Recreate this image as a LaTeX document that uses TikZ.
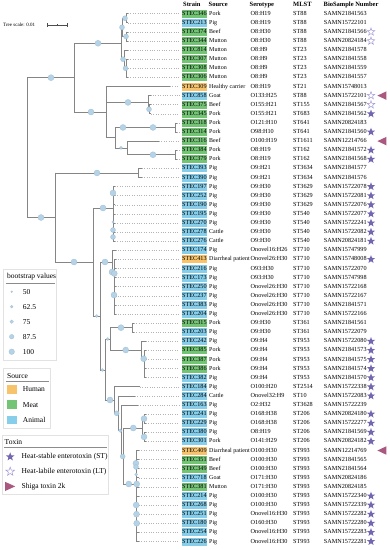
\documentclass[tikz,border=0pt]{standalone}
\usepackage{fontspec}
\setmainfont{Liberation Serif}
\usetikzlibrary{shapes.geometric}
\definecolor{cG}{HTML}{74C476}
\definecolor{cB}{HTML}{86CEEA}
\definecolor{cO}{HTML}{F7C46C}
\definecolor{brc}{HTML}{858585}
\definecolor{bsc}{HTML}{B5D2E6}
\definecolor{bsd}{HTML}{9DBDD4}
\definecolor{stc}{HTML}{7466B0}
\definecolor{hst}{HTML}{A39BD6}
\definecolor{trc}{HTML}{A9587F}
\definecolor{ldc}{HTML}{B4B4B4}
\definecolor{lgb}{HTML}{E2E2E2}
\begin{document}
\begin{tikzpicture}[x=1pt,y=-1pt,
  br/.style={draw=brc,line width=0.8pt,line cap=rect},
  leader/.style={draw=ldc,line width=0.45pt,dash pattern=on 0.9pt off 1.5pt},
  bsdot/.style={fill=bsc,draw=bsd,line width=0.25pt},
  cell/.style={anchor=west,inner sep=0pt,font=\fontsize{6.2}{7}\selectfont,text height=4.4pt,text depth=1.3pt},
  srccell/.style={cell,font=\fontsize{6.0}{7}\selectfont},
  hcell/.style={cell,font=\fontsize{6.5}{7}\selectfont\bfseries},
  strainbox/.style={anchor=west,inner sep=0pt,minimum width=25.5pt,minimum height=8pt,font=\fontsize{6.2}{7}\selectfont,text height=4.4pt,text depth=1.3pt},
  fstar/.style={star,star points=5,star point ratio=2.4,minimum size=8.6pt,inner sep=0pt,fill=stc},
  hstar/.style={star,star points=5,star point ratio=2.4,minimum size=8pt,inner sep=0pt,draw=hst,line width=0.5pt,fill=white},
  lgbox/.style={draw=lgb,fill=white,line width=0.6pt},
  lgtext/.style={anchor=west,inner sep=0pt,font=\fontsize{7.5}{9}\selectfont},
  swatch/.style={inner sep=0pt,minimum width=10pt,minimum height=8.5pt}]
\useasboundingbox (0,0) rectangle (390,550);
\fill[white] (0,0) rectangle (390,550);

% tree scale
\node[anchor=west,inner sep=0pt,font=\fontsize{5}{6}\selectfont] (tscale) at (3,25) {Tree scale: 0.01};
\coordinate (sbA) at (47,25);
\coordinate (sbB) at (67,25);
\draw[draw=black!70,line width=0.5pt] (sbA) -- (sbB);
\draw[draw=black!70,line width=0.5pt] (47,23.3) -- (47,26.7) (67,23.3) -- (67,26.7) (57,24) -- (57,26);

% header
\node[hcell] (hStrain) at (183,4.6) {Strain};
\node[hcell] (hSource) at (208.5,4.6) {Source};
\node[hcell] (hSero) at (249.5,4.6) {Serotype};
\node[hcell] (hMLST) at (293,4.6) {MLST};
\node[hcell] (hBio) at (323.5,4.6) {BioSample Number};

% tree internal structure
\draw[br] (27,77.65) -- (27,217.5);
\draw[br] (27,77.65) -- (74,77.65);
\draw[br] (27,217.5) -- (55,217.5);
\draw[br] (74,43.3) -- (74,112);
\draw[br] (74,43.3) -- (121,43.3);
\draw[br] (74,112) -- (106,112);
\draw[br] (121,27.35) -- (121,59.2);
\draw[br] (121,27.35) -- (122.5,27.35);
\draw[br] (121,59.2) -- (124,59.2);
\draw[br] (122.5,18.25) -- (122.5,36.45);
\draw[br] (122.5,18.25) -- (126,18.25);
\draw[br] (122.5,36.45) -- (126.5,36.45);
\draw[br] (126,13.7) -- (126,22.8);
\draw[br] (126.5,31.9) -- (126.5,41);
\draw[br] (124,50.1) -- (124,68.3);
\draw[br] (124,68.3) -- (126.5,68.3);
\draw[br] (126.5,59.2) -- (126.5,77.4);
\draw[br] (106,86.5) -- (106,137.7);
\draw[br] (106,102.4) -- (148,102.4);
\draw[br] (106,137.7) -- (115,137.7);
\draw[br] (148,95.6) -- (148,109.25);
\draw[br] (148,109.25) -- (149.5,109.25);
\draw[br] (149.5,104.7) -- (149.5,113.8);
\draw[br] (115,127.45) -- (115,147.9);
\draw[br] (115,127.45) -- (175,127.45);
\draw[br] (115,147.9) -- (127,147.9);
\draw[br] (175,122.9) -- (175,132);
\draw[br] (127,141.1) -- (127,154.75);
\draw[br] (127,154.75) -- (175,154.75);
\draw[br] (175,150.2) -- (175,159.3);
\draw[br] (55,172.95) -- (55,262);
\draw[br] (55,172.95) -- (138,172.95);
\draw[br] (55,262) -- (93,262);
\draw[br] (138,168.4) -- (138,177.5);
\draw[br] (93,208) -- (93,316);
\draw[br] (93,208) -- (113,208);
\draw[br] (93,316) -- (100,316);
\draw[br] (113,186.6) -- (113,241.2);
\draw[br] (100,262) -- (100,370);
\draw[br] (100,262) -- (112,262);
\draw[br] (100,370) -- (105.7,370);
\draw[br] (112,250.3) -- (112,273.5);
\draw[br] (112,273.5) -- (114,273.5);
\draw[br] (114,259.4) -- (114,314);
\draw[br] (105.7,339) -- (105.7,400);
\draw[br] (105.7,339) -- (110,339);
\draw[br] (105.7,400) -- (114.3,400);
\draw[br] (110,327.65) -- (110,350);
\draw[br] (110,327.65) -- (132,327.65);
\draw[br] (110,350) -- (141,350);
\draw[br] (132,323.1) -- (132,332.2);
\draw[br] (141,341.3) -- (141,358.7);
\draw[br] (141,358.7) -- (144.3,358.7);
\draw[br] (144.3,350.4) -- (144.3,377.7);
\draw[br] (114.3,386.8) -- (114.3,413.3);
\draw[br] (114.3,413.3) -- (118.5,413.3);
\draw[br] (118.5,395.9) -- (118.5,430.7);
\draw[br] (118.5,430.7) -- (121,430.7);
\draw[br] (121,405) -- (121,456.5);
\draw[br] (121,456.5) -- (123,456.5);
\draw[br] (123,428) -- (123,484);
\draw[br] (123,428) -- (142.3,428);
\draw[br] (123,484) -- (136.7,484);
\draw[br] (142.3,418.65) -- (142.3,436.85);
\draw[br] (142.3,418.65) -- (144.3,418.65);
\draw[br] (142.3,436.85) -- (144.3,436.85);
\draw[br] (144.3,414.1) -- (144.3,423.2);
\draw[br] (144.3,432.3) -- (144.3,441.4);
\draw[br] (136.7,450.5) -- (136.7,541.5);

% table rows, tip branches and leaders
\foreach \vst/\vso/\vse/\vml/\vbi/\vco/\vpx/\vtx [count=\i] in {
346/Pork/O8:H19/ST88/SAMN21841563/G/126/128,
213/Pig/O8:H19/ST88/SAMN15722101/B/126/128,
374/Beef/O8:H30/ST88/SAMN21841566/G/126.5/128,
344/Mutton/O8:H30/ST88/SAMN20824184/G/126.5/128,
814/Mutton/O8:H9/ST23/SAMN21841578/G/124/128,
307/Mutton/O8:H9/ST23/SAMN21841558/G/126.5/128,
308/Mutton/O8:H9/ST23/SAMN21841559/G/126.5/128,
306/Mutton/O8:H9/ST23/SAMN21841557/G/126.5/128,
309/Healthy carrier/O8:H19/ST21/SAMN15748013/O/106/170,
858/Goat/O133:H25/ST88/SAMN15722101/B/148/150.5,
375/Beef/O155:H21/ST155/SAMN21841567/G/149.5/151,
345/Pork/O155:H21/ST683/SAMN21841562/G/149.5/151,
318/Pork/O121:H10/ST641/SAMN20824183/G/175/177,
314/Pork/O98:H10/ST641/SAMN21841560/G/175/177,
316/Beef/O100:H19/ST1611/SAMN12214766/G/127/159,
384/Pork/O8:H19/ST162/SAMN21841572/G/175/177,
379/Pork/O8:H19/ST162/SAMN21841568/G/175/177,
393/Pig/O9:H21/ST3634/SAMN21841577/B/138/142,
390/Pig/O9:H21/ST3634/SAMN21841576/B/138/142,
197/Pig/O9:H30/ST3629/SAMN15722078/B/113/115,
252/Pig/O9:H30/ST3629/SAMN15722081/B/113/115,
190/Pig/O9:H30/ST3629/SAMN15722076/B/113/115,
195/Pig/O9:H30/ST540/SAMN15722077/B/113/115,
270/Pig/O9:H30/ST540/SAMN15722241/B/113/115,
278/Cattle/O9:H30/ST540/SAMN15722082/B/113/115,
276/Cattle/O9:H30/ST540/SAMN20824181/B/113/115,
174/Pig/Onovel16:H26/ST710/SAMN15747999/B/112/115.5,
413/Diarrheal patient/Onovel26:H30/ST710/SAMN15748008/O/114/115.5,
216/Pig/O93:H30/ST710/SAMN15722070/B/114/115.5,
173/Pig/O93:H30/ST710/SAMN15747998/B/114/115.5,
250/Pig/Onovel26:H30/ST710/SAMN15722168/B/114/115.5,
237/Pig/Onovel26:H30/ST710/SAMN15722167/B/114/115.5,
383/Pig/Onovel26:H30/ST710/SAMN21841571/B/114/115.5,
204/Pig/Onovel26:H30/ST710/SAMN15722166/B/114/115.5,
315/Pork/O9:H30/ST361/SAMN21841561/G/132/134,
203/Pig/O9:H30/ST361/SAMN15722079/B/132/134,
242/Pig/O9:H4/ST953/SAMN15722080/B/141/146,
385/Pork/O9:H4/ST953/SAMN21841573/G/144.3/146,
387/Pork/O9:H4/ST953/SAMN21841575/G/144.3/146,
386/Pork/O9:H4/ST953/SAMN21841574/G/144.3/146,
382/Pig/O9:H4/ST953/SAMN21841570/B/144.3/146,
184/Pig/O100:H20/ST2514/SAMN15722338/B/114.3/140,
284/Cattle/Onovel32:H9/ST10/SAMN15722083/B/118.5/135,
163/Pig/O2:H32/ST3628/SAMN15722239/B/121/138,
241/Pig/O168:H38/ST206/SAMN20824180/B/144.3/146,
229/Pig/O168:H38/ST206/SAMN15722277/B/144.3/146,
380/Pig/O8:H19/ST206/SAMN21841569/B/144.3/146,
301/Pork/O141:H29/ST206/SAMN20824182/B/144.3/146,
409/Diarrheal patient/O100:H30/ST993/SAMN12214769/O/136.7/139,
351/Beef/O100:H30/ST993/SAMN21841565/G/136.7/139,
349/Beef/O100:H30/ST993/SAMN21841564/G/136.7/139,
718/Goat/O171:H30/ST993/SAMN20824186/B/136.7/139,
381/Mutton/O171:H30/ST993/SAMN20824185/G/136.7/139,
214/Pig/O100:H30/ST993/SAMN15722340/B/136.7/139,
268/Pig/O100:H30/ST993/SAMN15722339/B/136.7/139,
251/Pig/Onovel16:H30/ST993/SAMN15722282/B/136.7/139,
180/Pig/O160:H30/ST993/SAMN15722280/B/136.7/139,
254/Pig/Onovel16:H30/ST993/SAMN15722283/B/136.7/139,
226/Pig/Onovel16:H30/ST993/SAMN15722281/B/136.7/139}
{
  \pgfmathsetmacro\yy{13.7+9.1*(\i-1)}
  \node[strainbox,fill=c\vco] (st\i) at (181.5,\yy) {STEC\vst};
  \node[srccell] (so\i) at (209,\yy) {\vso};
  \node[cell] (se\i) at (250.5,\yy) {\vse};
  \node[cell] (ml\i) at (293,\yy) {\vml};
  \node[cell] (bi\i) at (323.7,\yy) {\vbi};
  \coordinate (tip\i) at (\vtx,\yy);
  \draw[br] (\vpx,\yy) -- (tip\i);
  \draw[leader] (tip\i) -- ([xshift=-2pt]st\i.west);
}

% bootstrap circles on the tree
\foreach \cx/\cy/\cr in {51/77.65/3,41/217.5/3,98/43.3/3,91/112/3,122/27.35/2.5,123/59.2/2.5,
  125/18.25/2.5,126/36.45/2.5,125.5/68.3/2.5,128/102.4/3,149/109.25/2.5,123/127.45/3,153/127.45/3,
  121/147.9/1.5,153/154.75/3,97/172.95/3,74/262/3,103/208/3,113/193/3,113/222/1.2,113/230/2.5,
  113/237/2.5,96.7/316/1.5,105/262/3,112/272/3,114.3/273.5/3,114/295/3,102.3/370/1.5,107.7/339/1.5,
  121/327.65/3,125.7/350/3,143.7/358.7/3,110/400/3,116.7/413.3/2.5,120.3/430.7/1.8,122.7/456.5/2.5,
  133.3/428/3,144/418.65/3,144/436.85/3,128.8/484/3,136.7/484/3,135.9/463.3/3,136/467/2.5,
  136.2/474.5/1.5,136.2/505/3,136.5/514.2/3,136.7/523.3/3}
  \fill[bsdot] (\cx,\cy) circle (\cr);

% toxin markers
\foreach \r in {12,14,16,17,20,21,...,26,28,37,38,...,43,45,46,47,48,54,55,...,59}{
  \pgfmathsetmacro\yy{13.7+9.1*(\r-1)}
  \node[fstar] (fs\r) at (371,\yy) {};
}
\foreach \r in {3,4,10,11}{
  \pgfmathsetmacro\yy{13.7+9.1*(\r-1)}
  \node[hstar] (hs\r) at (371,\yy) {};
}
\foreach \r in {10,15,49}{
  \pgfmathsetmacro\yy{13.7+9.1*(\r-1)}
  \fill[trc] (386.3,\yy-4.2) -- (377.4,\yy) -- (386.3,\yy+4.2) -- cycle;
}

% legend: bootstrap values
\draw[lgbox] (3.5,269.5) rectangle (56.5,360.5);
\node[lgtext] (lgBsT) at (7,276.3) {bootstrap values};
\draw[draw=black!45,line width=0.5pt] (6,283) -- (54.5,283);
\foreach \lv/\ly/\lr [count=\k] in {50/291.7/0.9,62.5/306.7/1.35,75/321.7/1.8,87.5/336.7/2.3,100/351.7/2.8}{
  \fill[bsdot] (11.7,\ly) circle (\lr);
  \node[lgtext] (lgBs\k) at (22.7,\ly) {\lv};
}

% legend: source
\draw[lgbox] (3.5,368) rectangle (50.5,428.5);
\node[lgtext] (lgSrcT) at (7,375.7) {Source};
\draw[draw=black!45,line width=0.5pt] (6,381) -- (48.5,381);
\node[swatch,fill=cO] (swH) at (11.7,389.5) {};
\node[lgtext] (lgH) at (22.7,389.5) {Human};
\node[swatch,fill=cG] (swM) at (11.7,404.7) {};
\node[lgtext] (lgM) at (22.7,404.7) {Meat};
\node[swatch,fill=cB] (swA) at (11.7,420.2) {};
\node[lgtext] (lgA) at (22.7,420.2) {Animal};

% legend: toxin
\draw[lgbox] (2,435) rectangle (108.5,494);
\node[lgtext] (lgToxT) at (4.5,441.6) {Toxin};
\draw[draw=black!45,line width=0.5pt] (4,447) -- (106.5,447);
\node[fstar,minimum size=9pt] (lgFS) at (10.2,456.8) {};
\node[lgtext] (lgST) at (21.5,456.8) {Heat-stable enterotoxin (ST)};
\node[hstar,minimum size=9pt] (lgHS) at (10.2,471.6) {};
\node[lgtext] (lgLT) at (21.5,471.6) {Heat-labile enterotoxin (LT)};
\fill[trc] (5,481.8) -- (15.2,486.4) -- (5,491) -- cycle;
\node[lgtext] (lgSh) at (21.5,486.4) {Shiga toxin 2k};
\end{tikzpicture}
\end{document}
